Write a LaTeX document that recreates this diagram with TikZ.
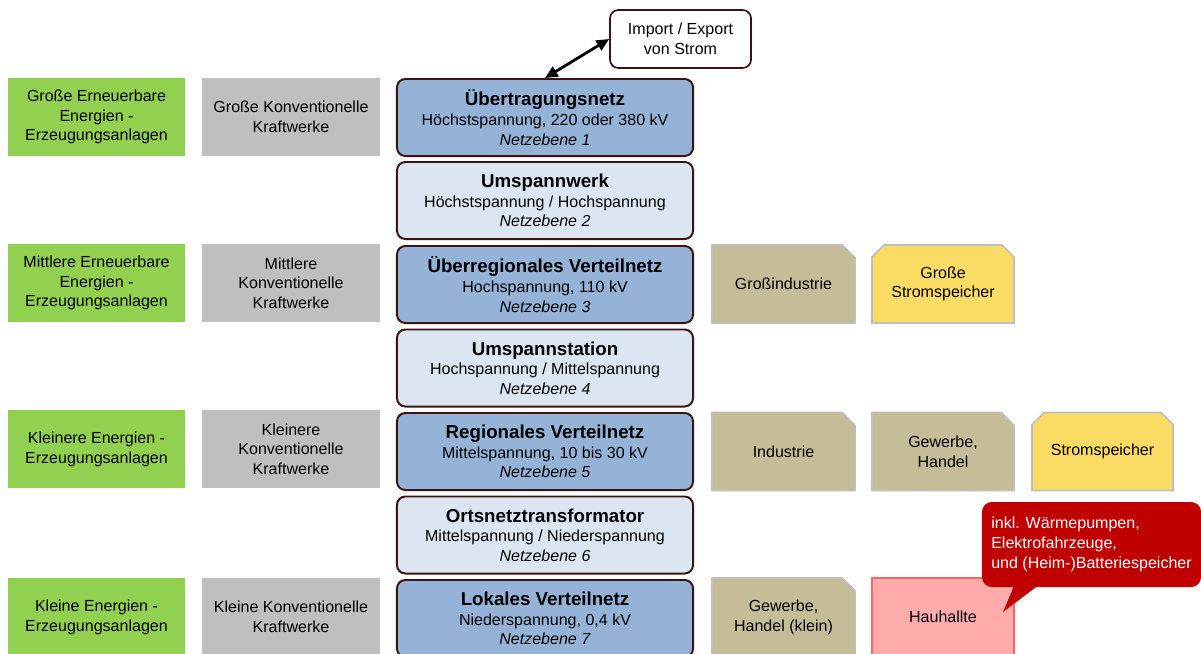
\documentclass[tikz,border=0pt]{standalone}
\usepackage{fontspec}
\setmainfont{Liberation Sans}
\usetikzlibrary{arrows.meta, positioning, calc, backgrounds}
\definecolor{gruen}{HTML}{92D050}
\definecolor{grau}{HTML}{BFBFBF}
\definecolor{blaudunkel}{HTML}{95B3D7}
\definecolor{blauhell}{HTML}{DCE6F2}
\definecolor{rahmen}{HTML}{3F1212}
\definecolor{oliv}{HTML}{C4BD97}
\definecolor{gelb}{HTML}{FADB63}
\definecolor{rosa}{HTML}{FFABAB}
\definecolor{rotrand}{HTML}{FF6363}
\definecolor{dunkelrot}{HTML}{C00000}
\newcommand{\titel}{\fontsize{13.3}{14}\selectfont\bfseries}
% abgeschnittene Ecken: #1 Knoten, #2 Stil
\newcommand{\eckeR}[2]{%
  \begin{scope}[on background layer]
    \filldraw[#2] (#1.south west) -- (#1.north west) -- ([xshift=-0.32cm]#1.north east)
      -- ([yshift=-0.32cm]#1.north east) -- (#1.south east) -- cycle;
  \end{scope}}
\newcommand{\eckeLR}[2]{%
  \begin{scope}[on background layer]
    \filldraw[#2] (#1.south west) -- ([yshift=-0.3cm]#1.north west) -- ([xshift=0.3cm]#1.north west)
      -- ([xshift=-0.3cm]#1.north east) -- ([yshift=-0.3cm]#1.north east) -- (#1.south east) -- cycle;
  \end{scope}}
\tikzset{
    ebene/.style={
        rectangle, rounded corners=6pt,
        draw=rahmen, line width=1.4pt,
        minimum width=7.4cm, minimum height=1.925cm,
        font=\fontsize{11.4}{14}\selectfont, align=center
    },
    netz/.style={ebene, fill=blaudunkel},
    umspann/.style={ebene, fill=blauhell},
    erzeuger/.style={
        rectangle, minimum width=4.425cm, minimum height=1.95cm,
        font=\fontsize{11.4}{14}\selectfont, align=center
    },
    erneuerbar/.style={erzeuger, fill=gruen},
    konventionell/.style={erzeuger, fill=grau, minimum width=4.45cm},
    abnehmer/.style={
        rectangle, outer sep=0pt, minimum width=3.55cm, minimum height=1.95cm,
        font=\fontsize{11.4}{14}\selectfont, align=center
    },
    olivbox/.style={fill=oliv, draw=grau, line width=1.2pt},
    gelbbox/.style={fill=gelb, draw=grau, line width=1.2pt},
    haushalt/.style={abnehmer, fill=rosa, draw=rotrand, line width=1.2pt},
    austausch/.style={
        rectangle, rounded corners=6pt, draw=rahmen, line width=1.2pt, fill=white,
        minimum width=3.525cm, minimum height=1.45cm,
        font=\fontsize{11.4}{14}\selectfont, align=center
    },
    hinweis/.style={
        rectangle, rounded corners=7pt, fill=dunkelrot, text=white,
        minimum width=5.475cm, minimum height=2.125cm,
        font=\fontsize{11.4}{14}\selectfont, align=left
    },
    pfeil/.style={{Triangle[length=9pt,width=8pt]}-{Triangle[length=9pt,width=8pt]}, line width=2pt, draw=black}
}
\begin{document}
\begin{tikzpicture}[x=0.025cm, y=-0.025cm]
    \useasboundingbox (0,0) rectangle (1201,653);

    % Netzebenen
    \node[netz] (ne1) at (545,117.5) {{\titel Übertragungsnetz}\\Höchstspannung, 220 oder 380 kV\\\textit{Netzebene 1}};
    \node[umspann] (ne2) at (545,200.5) {{\titel Umspannwerk}\\Höchstspannung / Hochspannung\\\textit{Netzebene 2}};
    \node[netz] (ne3) at (545,284.5) {{\titel Überregionales Verteilnetz}\\Hochspannung, 110 kV\\\textit{Netzebene 3}};
    \node[umspann] (ne4) at (545,368) {{\titel Umspannstation}\\Hochspannung / Mittelspannung\\\textit{Netzebene 4}};
    \node[netz] (ne5) at (545,451.5) {{\titel Regionales Verteilnetz}\\Mittelspannung, 10 bis 30 kV\\\textit{Netzebene 5}};
    \node[umspann] (ne6) at (545,535) {{\titel Ortsnetztransformator}\\Mittelspannung / Niederspannung\\\textit{Netzebene 6}};
    \node[netz] (ne7) at (545,618.5) {{\titel Lokales Verteilnetz}\\Niederspannung, 0,4 kV\\\textit{Netzebene 7}};

    % Erzeuger
    \node[erneuerbar] (ee1) at (96.5,117) {Große Erneuerbare\\Energien -\\Erzeugungsanlagen};
    \node[erneuerbar] (ee3) at (96.5,283) {Mittlere Erneuerbare\\Energien -\\Erzeugungsanlagen};
    \node[erneuerbar] (ee5) at (96.5,449) {Kleinere Energien -\\Erzeugungsanlagen};
    \node[erneuerbar] (ee7) at (96.5,617) {Kleine Energien -\\Erzeugungsanlagen};
    \node[konventionell] (kw1) at (291,117) {Große Konventionelle\\Kraftwerke};
    \node[konventionell] (kw3) at (291,283) {Mittlere\\Konventionelle\\Kraftwerke};
    \node[konventionell] (kw5) at (291,449) {Kleinere\\Konventionelle\\Kraftwerke};
    \node[konventionell] (kw7) at (291,617) {Kleine Konventionelle\\Kraftwerke};

    % Abnehmer und Speicher
    \node[abnehmer, minimum width=3.575cm] (gi) at (783.5,284) {Großindustrie};
    \node[abnehmer] (gs) at (943,284) {Große\\Stromspeicher};
    \node[abnehmer, minimum width=3.575cm] (ind) at (783.5,451.5) {Industrie};
    \node[abnehmer] (gh) at (943,451.5) {Gewerbe,\\Handel};
    \node[abnehmer, minimum width=3.525cm] (sp) at (1102.5,451.5) {Stromspeicher};
    \node[abnehmer, minimum width=3.575cm] (ghk) at (783.5,617) {Gewerbe,\\Handel (klein)};
    \node[haushalt] (hh) at (943,617) {Hauhallte};
    \eckeR{gi}{olivbox}
    \eckeLR{gs}{gelbbox}
    \eckeR{ind}{olivbox}
    \eckeR{gh}{olivbox}
    \eckeLR{sp}{gelbbox}
    \eckeR{ghk}{olivbox}

    % Import / Export
    \node[austausch] (imex) at (680.5,39) {Import / Export\\von Strom};
    \draw[pfeil] (ne1.north) -- (imex.west);

    % Hinweis
    \coordinate (spitze) at (1003,612);
    \node[hinweis] (inkl) at (1091.5,544.5) {inkl. Wärmepumpen,\\Elektrofahrzeuge,\\und (Heim-)Batteriespeicher};
    \fill[dunkelrot] ($(inkl.south west)+(33,-3)$) -- (spitze) -- ($(inkl.south west)+(58,-3)$) -- cycle;
\end{tikzpicture}
\end{document}
